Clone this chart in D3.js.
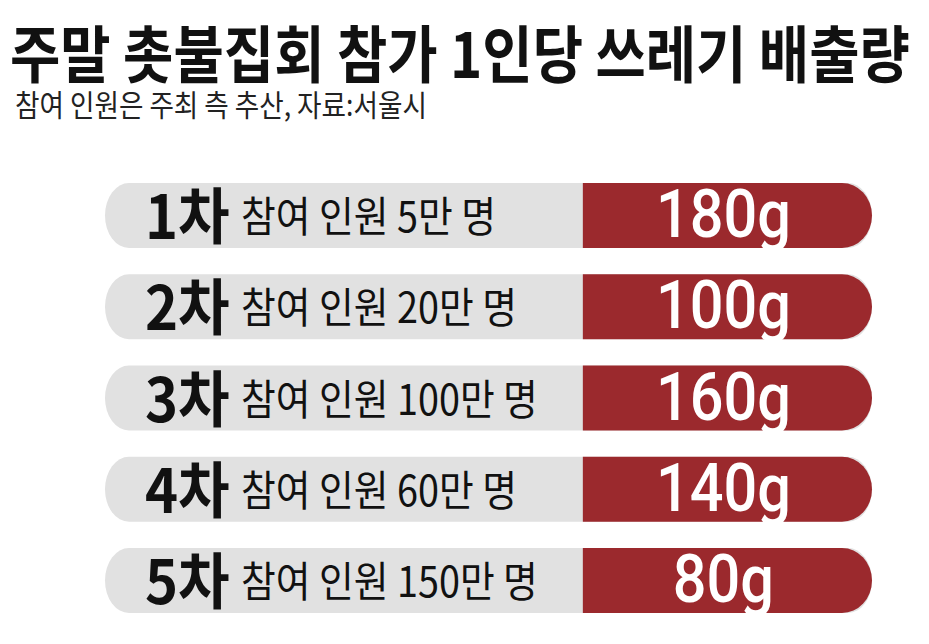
<!DOCTYPE html>
<html>
<head>
<meta charset="utf-8">
<script src="https://cdn.jsdelivr.net/npm/d3@7"></script>
<style>
  html, body { margin: 0; padding: 0; background: #fff; }
  svg { display: block; }
</style>
</head>
<body>
<svg id="chart" width="929" height="644"></svg>
<script>
// rounds of the weekend candlelight rallies
const rounds = ["1차", "2차", "3차", "4차", "5차"];
// participants, in units of 10,000 (만)
const participants = [5, 20, 100, 60, 150];
// waste per person, grams
const wastePerPerson = [180, 100, 160, 140, 80];

const titleText = "주말 촛불집회 참가 1인당 쓰레기 배출량";
const subtitleText = "참여 인원은 주최 측 추산, 자료:서울시";

const KR = "'Noto Sans CJK KR', 'Noto Sans', sans-serif";

const svg = d3.select("#chart");

function translate(x, y) {
    return `translate(${x}, ${y})`;
}

// squeeze a text horizontally so it spans `width` px (the original type is a narrow gothic)
function fitWidth(sel, x, y, width) {
    const len = sel.node().getComputedTextLength();
    sel.attr("transform", `${translate(x, y)} scale(${width / len}, 1)`);
}

svg.append("text")
    .style("font-family", KR)
    .style("font-weight", 700)
    .style("font-size", "62px")
    .style("fill", "#111")
    .text(titleText)
    .call(fitWidth, 10, 78, 900);

svg.append("text")
    .style("font-family", KR)
    .style("font-size", "30px")
    .style("fill", "#222")
    .text(subtitleText)
    .call(fitWidth, 15, 116, 412);

// rows
const y = d3.scaleBand()
    .domain(rounds)
    .range([183, 613])
    .paddingInner(0.288)
    .paddingOuter(0);

// pill extent; the red value part starts at `split`
const x = d3.scaleLinear()
    .domain([0, 1])
    .range([105, 872]);
const split = 0.623;

const rows = svg.selectAll("g.row")
    .data(rounds.map((r, i) => ({ round: r, people: participants[i], waste: wastePerPerson[i] })))
    .join("g")
    .attr("class", "row")
    .attr("transform", d => translate(0, y(d.round)));

const bh = y.bandwidth();

rows.append("rect")
    .attr("x", x(0))
    .attr("y", 0)
    .attr("width", x(1) - x(0))
    .attr("height", bh)
    .attr("rx", 24)
    .attr("ry", bh / 2)
    .attr("fill", "#e1e1e1");

// red part: square left side, rounded right end
const redPath = () => {
    const x0 = x(split), x1 = x(1), rx = 30, ry = bh / 2;
    return `M${x0},0 H${x1 - rx} A${rx},${ry} 0 0 1 ${x1},${ry} A${rx},${ry} 0 0 1 ${x1 - rx},${bh} H${x0} Z`;
};
rows.append("path")
    .attr("d", redPath)
    .attr("fill", "#9b292d");

rows.append("text")
    .attr("transform", translate(145, 56) + " scale(0.92, 1)")
    .style("font-family", KR)
    .style("font-weight", 700)
    .style("font-size", "61px")
    .style("fill", "#111")
    .text(d => d.round);

rows.append("text")
    .attr("transform", translate(241, 49) + " scale(0.9, 1)")
    .style("font-family", KR)
    .style("font-size", "42px")
    .style("fill", "#111")
    .text(d => `참여 인원 ${d.people}만 명`);

rows.append("text")
    .attr("transform", translate((x(split) + x(1)) / 2 - 4, 54) + " scale(0.9, 1)")
    .attr("text-anchor", "middle")
    .style("font-family", "Roboto, 'Liberation Sans', Arial, sans-serif")
    .style("font-weight", 500)
    .style("font-size", "66px")
    .style("fill", "#fff")
    .text(d => `${d.waste}g`);
</script>
</body>
</html>
